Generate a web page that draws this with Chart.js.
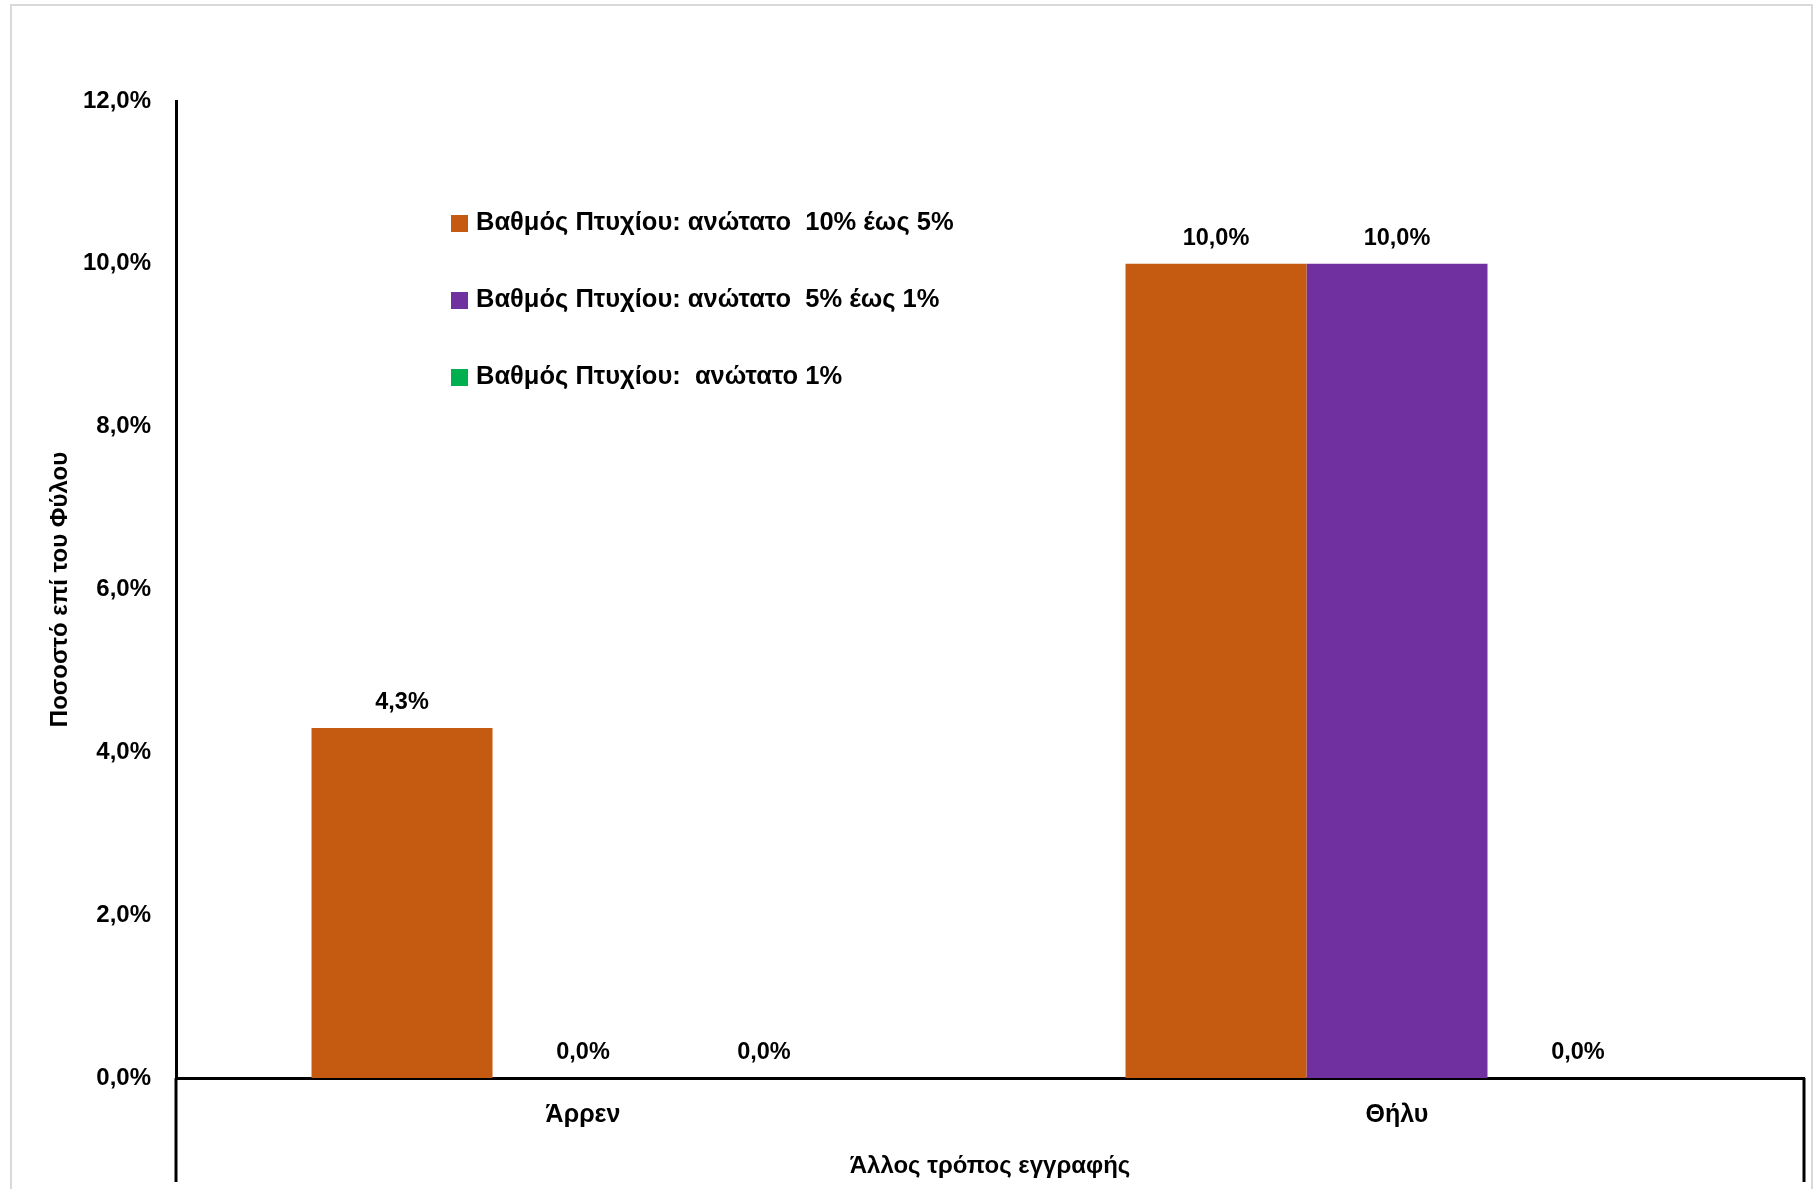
<!DOCTYPE html>
<html>
<head>
<meta charset="utf-8">
<script src="https://cdn.jsdelivr.net/npm/chart.js@4/dist/chart.umd.min.js"></script>
<style>
  html, body { margin: 0; padding: 0; background: #ffffff; }
  #wrap { width: 1817px; height: 1189px; position: relative; }
  canvas { display: block; }
</style>
</head>
<body>
<div id="wrap"><canvas id="c" width="1817" height="1189"></canvas></div>
<script>
const categories = ['Άρρεν', 'Θήλυ'];
const seriesNames = [
  'Βαθμός Πτυχίου: ανώτατο  10% έως 5%',
  'Βαθμός Πτυχίου: ανώτατο  5% έως 1%',
  'Βαθμός Πτυχίου:  ανώτατο 1%'
];
const top10to5 = [4.3, 10.0];
const top5to1 = [0.0, 10.0];
const top1 = [0.0, 0.0];
const seriesColors = ['#C55A11', '#7030A0', '#00B050'];
const yTicks = [0, 2, 4, 6, 8, 10, 12];
const xAxisTitle = 'Άλλος τρόπος εγγραφής';
const yAxisTitle = 'Ποσοστό επί του Φύλου';

const FONT = '"Liberation Sans", Arial, sans-serif';
const fmt = v => v.toFixed(1).replace('.', ',') + '%';

const frameAndAxes = {
  id: 'frameAndAxes',
  beforeDraw(chart) {
    const ctx = chart.ctx;
    ctx.save();
    ctx.strokeStyle = '#d9d9d9';
    ctx.lineWidth = 2;
    ctx.strokeRect(11, 5, chart.width - 16, chart.height);
    ctx.restore();
  },
  afterDraw(chart) {
    const ctx = chart.ctx;
    const a = chart.chartArea;
    ctx.save();
    ctx.strokeStyle = '#000';
    ctx.lineWidth = 3;
    ctx.beginPath();
    ctx.moveTo(a.left, a.bottom);
    ctx.lineTo(a.left, chart.height - 7);
    ctx.moveTo(a.right, a.bottom);
    ctx.lineTo(a.right, chart.height - 7);
    ctx.stroke();
    ctx.restore();
  }
};

const dataLabels = {
  id: 'dataLabels',
  afterDatasetsDraw(chart) {
    const ctx = chart.ctx;
    ctx.save();
    ctx.font = 'bold 23.5px ' + FONT;
    ctx.fillStyle = '#000';
    ctx.textAlign = 'center';
    ctx.textBaseline = 'middle';
    chart.data.datasets.forEach((ds, i) => {
      const meta = chart.getDatasetMeta(i);
      meta.data.forEach((bar, j) => {
        ctx.fillText(fmt(ds.data[j]), bar.x, bar.y - 25);
      });
    });
    ctx.restore();
  }
};

const innerLegend = {
  id: 'innerLegend',
  afterDraw(chart) {
    const ctx = chart.ctx;
    const a = chart.chartArea;
    const x0 = a.left + 275;
    const y0 = a.top + 122;
    const gap = 77;
    ctx.save();
    ctx.font = 'bold 25.5px ' + FONT;
    ctx.textBaseline = 'middle';
    ctx.textAlign = 'left';
    chart.data.datasets.forEach((ds, i) => {
      const y = y0 + i * gap;
      ctx.fillStyle = ds.backgroundColor;
      ctx.fillRect(x0, y - 8, 17, 17);
      ctx.fillStyle = '#000';
      ctx.fillText(ds.label, x0 + 25, y);
    });
    ctx.restore();
  }
};

const dataSeries = [top10to5, top5to1, top1];

new Chart(document.getElementById('c'), {
  type: 'bar',
  data: {
    labels: categories,
    datasets: dataSeries.map((d, i) => ({
      label: seriesNames[i],
      data: d,
      backgroundColor: seriesColors[i],
      borderWidth: 0,
      categoryPercentage: 0.667,
      barPercentage: 1.0
    }))
  },
  options: {
    responsive: false,
    animation: false,
    layout: { padding: { left: 0, top: 101, right: 13, bottom: 0 } },
    plugins: {
      legend: { display: false },
      tooltip: { enabled: false },
      title: { display: false }
    },
    scales: {
      x: {
        grid: { display: false, drawTicks: false },
        border: { display: true, color: '#000', width: 3 },
        ticks: { color: '#000', font: { family: FONT, size: 25, weight: 'bold' }, padding: 22 },
        title: { display: true, text: xAxisTitle, color: '#000', font: { family: FONT, size: 24, weight: 'bold' }, padding: { top: 0, bottom: 8 } },
        afterFit(scale) { scale.height = 111; }
      },
      y: {
        min: 0,
        max: 12,
        grid: { display: false, drawTicks: false },
        border: { display: true, color: '#000', width: 3 },
        afterBuildTicks(scale) { scale.ticks = yTicks.map(v => ({ value: v })); },
        ticks: {
          color: '#000',
          font: { family: FONT, size: 24, weight: 'bold' },
          padding: 25,
          callback: v => fmt(v)
        },
        title: { display: true, text: yAxisTitle, color: '#000', font: { family: FONT, size: 24, weight: 'bold' }, padding: { top: 46, bottom: 0 } },
        afterFit(scale) { scale.width = 176; }
      }
    }
  },
  plugins: [frameAndAxes, dataLabels, innerLegend]
});
</script>
</body>
</html>
